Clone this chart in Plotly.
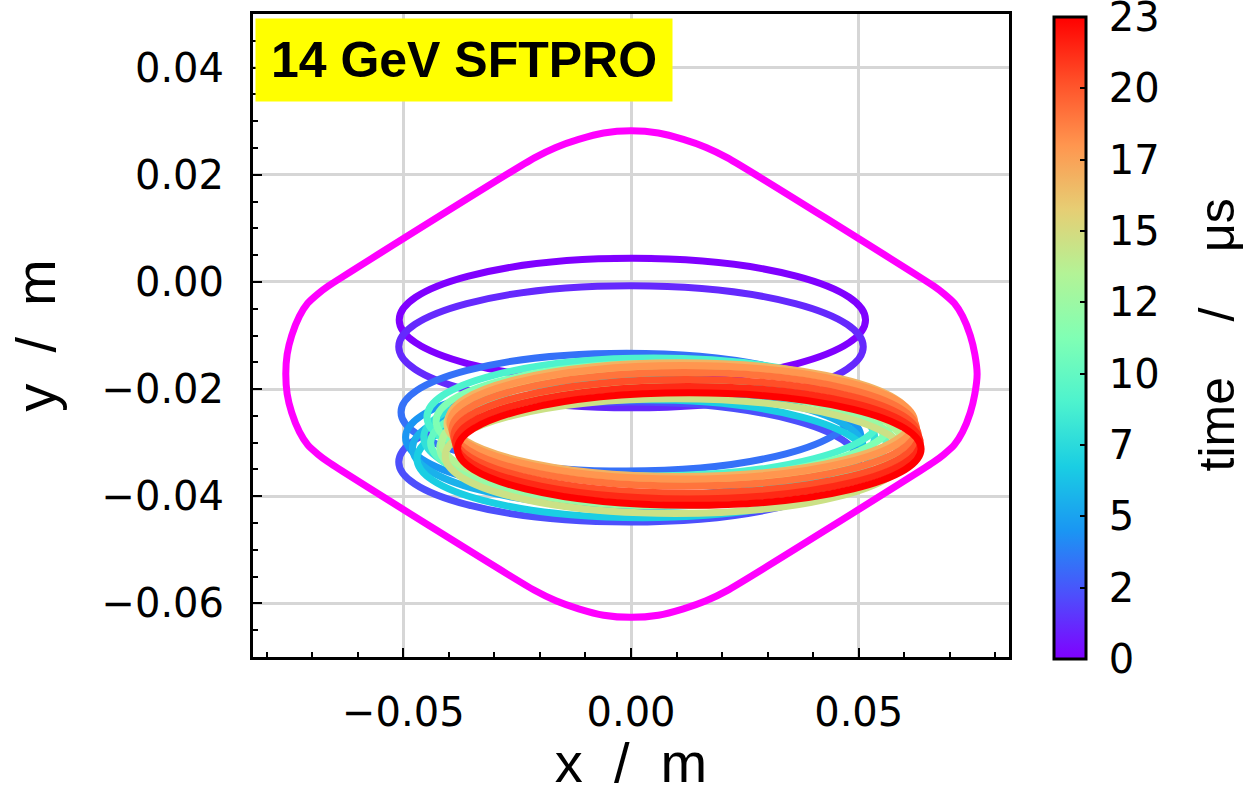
import plotly.graph_objects as go
from plotly.colors import sample_colorscale

# ---------------- data ----------------
# beam-position ellipses: time (µs), centre x/y (m), half-widths (m)
t_us = [0.0, 1.2, 2.3, 3.4, 4.6, 5.7, 6.9, 8.0, 9.2, 10.3, 11.5,
        12.6, 13.8, 14.9, 16.1, 17.2, 18.4, 19.5, 20.7, 21.8, 23.0]
cx = [0.0003, 0.0000, -0.0005, -0.0010, 0.0005, 0.0015, 0.0025, 0.0040,
      0.0050, 0.0060, 0.0072, 0.0082, 0.0090, 0.0097, 0.0103, 0.0108,
      0.0113, 0.0117, 0.0121, 0.0125, 0.0128]
cy = [-0.0071, -0.0121, -0.0336, -0.0243, -0.0290, -0.0310, -0.0330,
      -0.0290, -0.0252, -0.0300, -0.0260, -0.0310, -0.0300, -0.0325,
      -0.0265, -0.0257, -0.0262, -0.0275, -0.0288, -0.0300, -0.0312]
ax = [0.0512, 0.0510, 0.0505, 0.0495, 0.0500, 0.0495, 0.0495, 0.0495,
      0.0498, 0.0500, 0.0500, 0.0502, 0.0505, 0.0505, 0.0507, 0.0508,
      0.0510, 0.0510, 0.0510, 0.0510, 0.0509]
ay = [0.0115, 0.0114, 0.0112, 0.0110, 0.0110, 0.0110, 0.0110, 0.0110,
      0.0110, 0.0108, 0.0108, 0.0108, 0.0107, 0.0107, 0.0106, 0.0106,
      0.0106, 0.0106, 0.0106, 0.0105, 0.0105]

# aperture outline (magenta), m
ap_x = [0.0000, 0.0060, 0.0115, 0.0165, 0.0211, 0.0636, 0.0665, 0.0687,
        0.0710, 0.0728, 0.0745, 0.0755, 0.0760, 0.0755, 0.0745, 0.0728,
        0.0710, 0.0687, 0.0665, 0.0636, 0.0211, 0.0165, 0.0115, 0.0060,
        0.0000, -0.0060, -0.0115, -0.0165, -0.0211, -0.0636, -0.0665,
        -0.0687, -0.0710, -0.0728, -0.0745, -0.0755, -0.0758, -0.0755,
        -0.0745, -0.0728, -0.0710, -0.0687, -0.0665, -0.0636, -0.0211,
        -0.0165, -0.0115, -0.0060, 0.0000]
ap_y = [0.0282, 0.0278, 0.0266, 0.0251, 0.0232, 0.0008, -0.0008, -0.0022,
        -0.0040, -0.0064, -0.0100, -0.0135, -0.0172, -0.0209, -0.0244,
        -0.0280, -0.0304, -0.0322, -0.0336, -0.0352, -0.0576, -0.0595,
        -0.0610, -0.0622, -0.0626, -0.0622, -0.0610, -0.0595, -0.0576,
        -0.0352, -0.0336, -0.0322, -0.0304, -0.0280, -0.0244, -0.0209,
        -0.0172, -0.0135, -0.0100, -0.0064, -0.0040, -0.0022, -0.0008,
        0.0008, 0.0232, 0.0251, 0.0266, 0.0278, 0.0282]

cbar_tickvals = [0, 2.556, 5.111, 7.667, 10.222, 12.778, 15.333, 17.889, 20.444, 23]
cbar_ticktext = ["0", "2", "5", "7", "10", "12", "15", "17", "20", "23"]
t_min, t_max = 0, 23

# matplotlib-like "rainbow" colour map
rainbow = [
    [0.0, "rgb(128,0,255)"], [0.1, "rgb(77,79,252)"], [0.2, "rgb(26,150,243)"],
    [0.3, "rgb(26,206,227)"], [0.4, "rgb(77,243,206)"], [0.5, "rgb(128,255,180)"],
    [0.6, "rgb(179,243,150)"], [0.7, "rgb(230,206,116)"], [0.8, "rgb(255,150,79)"],
    [0.9, "rgb(255,79,40)"], [1.0, "rgb(255,0,0)"],
]

TICK_FONT = dict(family="DejaVu Sans", size=40, color="black")
TITLE_FONT = dict(family="Liberation Sans", size=56, color="black")
NB = "\u00a0"

fig = go.Figure()

# aperture
fig.add_trace(go.Scatter(x=ap_x, y=ap_y, mode="lines",
                         line=dict(color="#ff00ff", width=7, shape="spline",
                                   smoothing=0.7),
                         showlegend=False, hoverinfo="skip"))

# invisible trace carrying the colour bar
fig.add_trace(go.Scatter(
    x=cx, y=cy, mode="markers", showlegend=False, hoverinfo="skip",
    marker=dict(size=1, opacity=0, color=t_us, colorscale=rainbow,
                cmin=t_min, cmax=t_max, showscale=True,
                colorbar=dict(
                    x=1.0466, xanchor="left", xpad=10,
                    y=0.496, yanchor="middle", ypad=8,
                    len=1.023, lenmode="fraction", thickness=32,
                    outlinewidth=3, outlinecolor="black",
                    tickmode="array", tickvals=cbar_tickvals,
                    ticktext=[NB + s for s in cbar_ticktext],
                    ticks="inside", ticklen=7, tickwidth=2, tickcolor="black",
                    tickfont=TICK_FONT, ticklabeloverflow="allow",
                ))))

# ellipses, coloured by time
cols = sample_colorscale(rainbow, [(t - t_min) / (t_max - t_min) for t in t_us])
for t, x0, y0, a, b, c in zip(t_us, cx, cy, ax, ay, cols):
    fig.add_shape(type="circle", xref="x", yref="y",
                  x0=x0 - a, x1=x0 + a, y0=y0 - b, y1=y0 + b,
                  line=dict(color=c, width=7), fillcolor="rgba(0,0,0,0)",
                  layer="above")

axis_common = dict(
    showline=True, linecolor="black", linewidth=3, mirror=True,
    showgrid=True, gridcolor="#d6d6d6", gridwidth=2.5, zeroline=False,
    ticks="inside", ticklen=9, tickwidth=2, tickcolor="black",
    tickformat=".2f", tickfont=TICK_FONT, ticklabelstandoff=18,
    automargin=False,
)

fig.update_xaxes(range=[-0.083, 0.083], tick0=0, dtick=0.05,
                 minor=dict(ticks="inside", dtick=0.01, ticklen=5,
                            tickwidth=1.5, tickcolor="black", showgrid=False),
                 title=dict(text=f"x{NB}{NB}/{NB}{NB}m", font=TITLE_FONT,
                            standoff=16),
                 **axis_common)
fig.update_yaxes(range=[-0.070, 0.050], tick0=0, dtick=0.02,
                 minor=dict(ticks="inside", dtick=0.005, ticklen=5,
                            tickwidth=1.5, tickcolor="black", showgrid=False),
                 title=dict(text=f"y{NB}{NB}/{NB}{NB}m", font=TITLE_FONT,
                            standoff=28),
                 **axis_common)

fig.add_annotation(
    text="<b>14 GeV SFTPRO</b>", xref="paper", yref="paper",
    x=0, y=1, xanchor="left", yanchor="top", xshift=2, yshift=-4,
    showarrow=False, bgcolor="#ffff00", borderpad=0, width=416, height=82,
    align="center", valign="middle",
    font=dict(family="Liberation Sans", size=50, color="black"))

# colour-bar title
fig.add_annotation(
    text=f"time{NB * 4}/{NB * 4}μs", xref="paper", yref="paper",
    x=1.0, y=0.5, xanchor="center", yanchor="middle", xshift=207,
    textangle=-90, showarrow=False,
    font=dict(family="Liberation Sans", size=50, color="black"))

fig.update_layout(
    width=1245, height=794,
    margin=dict(l=253, r=236, t=14, b=137, autoexpand=False),
    plot_bgcolor="white", paper_bgcolor="white",
    showlegend=False,
)

fig.write_html("out.html")
